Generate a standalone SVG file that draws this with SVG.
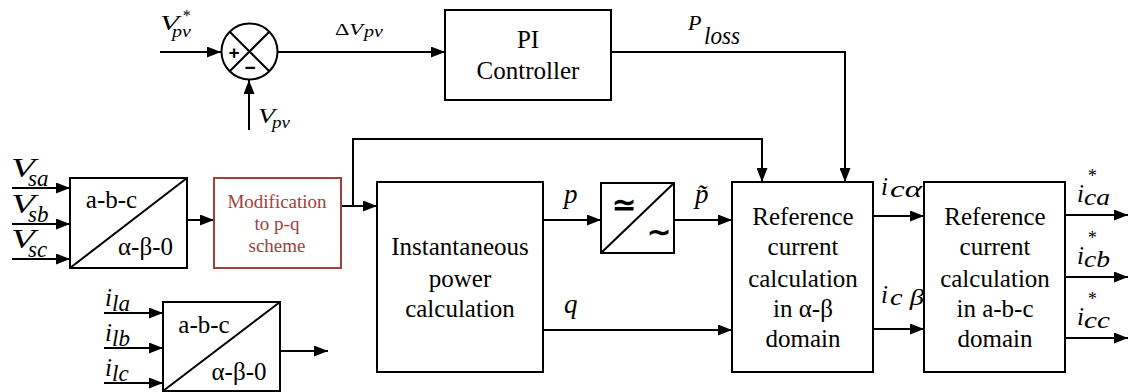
<svg xmlns="http://www.w3.org/2000/svg" width="1132" height="392" viewBox="0 0 1132 392">
<defs>
<marker id="ah" markerUnits="userSpaceOnUse" markerWidth="14" markerHeight="11" refX="14" refY="5.5" orient="auto">
<path d="M0,0 L14,5.5 L0,11 z" fill="#000"/>
</marker>
<style>
.box{fill:#fff;stroke:#000;stroke-width:2}
.mod{fill:#fff;stroke:#a0403c;stroke-width:2}
.ln{fill:none;stroke:#000;stroke-width:2}
.ar{fill:none;stroke:#000;stroke-width:2;marker-end:url(#ah)}
.t{font-family:"Liberation Serif","Times New Roman",serif;font-size:25px;fill:#000;text-anchor:middle}
.tm{font-family:"Liberation Serif","Times New Roman",serif;font-size:19px;fill:#a0403c;text-anchor:middle}
.it{font-family:"Liberation Serif","Times New Roman",serif;font-style:italic;fill:#000}
</style>
</defs>
<rect width="1132" height="392" fill="#fff"/>
<g id="connectors">
<line class="ar" x1="160" y1="52" x2="221" y2="52"/>
<line class="ar" x1="249" y1="130" x2="249" y2="80"/>
<line class="ar" x1="278" y1="52" x2="445" y2="52"/>
<polyline class="ar" points="611,52 845,52 845,182"/>
<line class="ar" x1="12" y1="188" x2="70" y2="188"/>
<line class="ar" x1="12" y1="224" x2="70" y2="224"/>
<line class="ar" x1="12" y1="259" x2="70" y2="259"/>
<line class="ar" x1="187" y1="220" x2="214" y2="220"/>
<line class="ar" x1="341" y1="206" x2="377" y2="206"/>
<polyline class="ar" points="353,206 353,139 762,139 762,182"/>
<line class="ar" x1="104" y1="313" x2="163" y2="313"/>
<line class="ar" x1="104" y1="348" x2="163" y2="348"/>
<line class="ar" x1="104" y1="383" x2="163" y2="383"/>
<line class="ar" x1="280" y1="351" x2="328" y2="351"/>
<line class="ar" x1="543" y1="220" x2="601" y2="220"/>
<line class="ar" x1="674" y1="220" x2="732" y2="220"/>
<line class="ar" x1="543" y1="330" x2="732" y2="330"/>
<line class="ar" x1="871" y1="216" x2="924" y2="216"/>
<line class="ar" x1="871" y1="329" x2="924" y2="329"/>
<line class="ar" x1="1065" y1="215" x2="1128" y2="215"/>
<line class="ar" x1="1065" y1="277" x2="1128" y2="277"/>
<line class="ar" x1="1065" y1="338" x2="1128" y2="338"/>
</g>
<g id="labels">
<text class="it" x="160" y="30" font-size="22" textLength="19" lengthAdjust="spacingAndGlyphs">V</text>
<text class="it" x="182" y="21" font-size="16">*</text>
<text class="it" x="172" y="37" font-size="16" textLength="19" lengthAdjust="spacingAndGlyphs">pv</text>
<text class="it" x="258" y="123" font-size="22" textLength="17" lengthAdjust="spacingAndGlyphs">V</text>
<text class="it" x="272" y="128" font-size="16" textLength="18" lengthAdjust="spacingAndGlyphs">pv</text>
<text class="it" x="335" y="35" font-size="17" textLength="28" lengthAdjust="spacingAndGlyphs"><tspan font-style="normal">Δ</tspan>V</text>
<text class="it" x="364" y="37" font-size="16" textLength="19" lengthAdjust="spacingAndGlyphs">pv</text>
<text class="it" x="688" y="30" font-size="22">P</text>
<text class="it" x="704" y="44" font-size="25" textLength="36" lengthAdjust="spacingAndGlyphs">loss</text>
<text class="it" x="11" y="177" font-size="27" textLength="24" lengthAdjust="spacingAndGlyphs">V</text>
<text class="it" x="28" y="186" font-size="23">sa</text>
<text class="it" x="11" y="213" font-size="27" textLength="24" lengthAdjust="spacingAndGlyphs">V</text>
<text class="it" x="28" y="222" font-size="23">sb</text>
<text class="it" x="11" y="248" font-size="27" textLength="24" lengthAdjust="spacingAndGlyphs">V</text>
<text class="it" x="28" y="257" font-size="23">sc</text>
<text class="it" x="105" y="306" font-size="25">i</text>
<text class="it" x="112" y="311" font-size="23">la</text>
<text class="it" x="105" y="341" font-size="25">i</text>
<text class="it" x="112" y="346" font-size="23">lb</text>
<text class="it" x="105" y="376" font-size="25">i</text>
<text class="it" x="112" y="381" font-size="23">lc</text>
<text class="it" x="564" y="203" font-size="27">p</text>
<text class="it" x="564" y="313" font-size="27">q</text>
<text class="it" x="695" y="203" font-size="27">p̃</text>
<text class="it" x="881" y="195" font-size="25">i</text>
<text class="it" x="890" y="197" font-size="23" textLength="32" lengthAdjust="spacingAndGlyphs">cα</text>
<text class="it" x="881" y="303" font-size="25">i</text>
<text class="it" x="890" y="305" font-size="23" textLength="34" lengthAdjust="spacingAndGlyphs">c β</text>
<text class="it" x="1077" y="202" font-size="25">i</text>
<text class="it" x="1087" y="182" font-size="18">*</text>
<text class="it" x="1084" y="205" font-size="23" textLength="26" lengthAdjust="spacingAndGlyphs">ca</text>
<text class="it" x="1077" y="264" font-size="25">i</text>
<text class="it" x="1087" y="244" font-size="18">*</text>
<text class="it" x="1084" y="267" font-size="23" textLength="26" lengthAdjust="spacingAndGlyphs">cb</text>
<text class="it" x="1077" y="325" font-size="25">i</text>
<text class="it" x="1087" y="305" font-size="18">*</text>
<text class="it" x="1084" y="328" font-size="23" textLength="26" lengthAdjust="spacingAndGlyphs">cc</text>
</g>
<g id="sum">
<circle cx="249.5" cy="51.5" r="28" class="box"/>
<line class="ln" x1="229.7" y1="31.7" x2="269.3" y2="71.3"/>
<line class="ln" x1="269.3" y1="31.7" x2="229.7" y2="71.3"/>
<text x="234" y="59" font-family="Liberation Sans, sans-serif" font-weight="bold" font-size="19" text-anchor="middle">+</text>
<text x="250" y="74" font-family="Liberation Sans, sans-serif" font-weight="bold" font-size="19" text-anchor="middle">−</text>
</g>
<g id="pi">
<rect class="box" x="445" y="10" width="166" height="90"/>
<text class="t" x="528" y="48">PI</text>
<text class="t" x="528" y="79">Controller</text>
</g>
<g id="abc1">
<rect class="box" x="70" y="178" width="117" height="90"/>
<line class="ln" x1="70" y1="268" x2="187" y2="178"/>
<text class="t" x="111.5" y="208">a-b-c</text>
<text class="t" x="145.5" y="255">α-β-0</text>
</g>
<g id="modification">
<rect class="mod" x="214" y="178" width="127" height="90"/>
<text class="tm" x="277" y="208">Modification</text>
<text class="tm" x="277" y="230">to p-q</text>
<text class="tm" x="277" y="252">scheme</text>
</g>
<g id="abc2">
<rect class="box" x="163" y="302" width="117" height="89"/>
<line class="ln" x1="163" y1="391" x2="280" y2="302"/>
<text class="t" x="204" y="333">a-b-c</text>
<text class="t" x="239" y="380">α-β-0</text>
</g>
<g id="instantaneous">
<rect class="box" x="377" y="182" width="166" height="190"/>
<text class="t" x="460" y="255">Instantaneous</text>
<text class="t" x="460" y="287">power</text>
<text class="t" x="460" y="317">calculation</text>
</g>
<g id="filter">
<rect class="box" x="601" y="183" width="73" height="70"/>
<line class="ln" x1="601" y1="253" x2="674" y2="183"/>
<text x="624" y="215" font-family="DejaVu Sans, sans-serif" font-weight="bold" font-size="30" text-anchor="middle">≃</text>
<text x="659" y="242" font-family="DejaVu Sans, sans-serif" font-weight="bold" font-size="30" text-anchor="middle">∼</text>
</g>
<g id="ref_ab">
<rect class="box" x="732" y="182" width="141" height="190"/>
<text class="t" x="803" y="225">Reference</text>
<text class="t" x="803" y="255">current</text>
<text class="t" x="803" y="287">calculation</text>
<text class="t" x="803" y="317">in α-β</text>
<text class="t" x="803" y="347">domain</text>
</g>
<g id="ref_abc">
<rect class="box" x="924" y="182" width="141" height="190"/>
<text class="t" x="995" y="225">Reference</text>
<text class="t" x="995" y="255">current</text>
<text class="t" x="995" y="287">calculation</text>
<text class="t" x="995" y="317">in a-b-c</text>
<text class="t" x="995" y="347">domain</text>
</g>
</svg>
